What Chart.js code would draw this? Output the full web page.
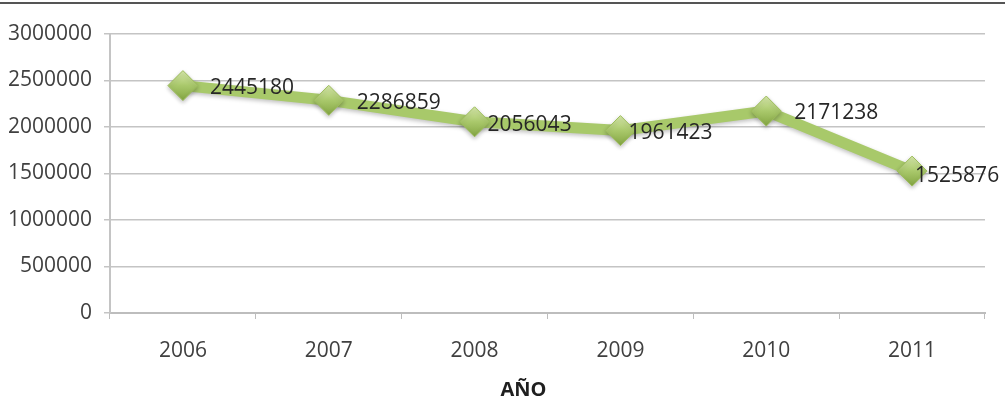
<!DOCTYPE html>
<html>
<head>
<meta charset="utf-8">
<script src="https://cdn.jsdelivr.net/npm/chart.js@4/dist/chart.umd.min.js"></script>
<style>
  html, body { margin: 0; padding: 0; background: #ffffff; }
  #wrap { position: relative; width: 1005px; height: 419px; }
  #wrap::before { content: ""; position: absolute; left: 0; right: 0; top: 2px; height: 2px; background: #555; }
  canvas { display: block; }
</style>
</head>
<body>
<div id="wrap"><canvas id="c" width="1005" height="419"></canvas></div>
<script>
// Yearly totals
const years = ['2006', '2007', '2008', '2009', '2010', '2011'];
const totals = [2445180, 2286859, 2056043, 1961423, 2171238, 1525876];
const yTicks = [0, 500000, 1000000, 1500000, 2000000, 2500000, 3000000];
const axisTitle = 'AÑO';

// label placement relative to each marker (px)
const labelShift = [[27, 2], [28, 3], [13, 3], [8, 2], [28, 2], [3, 5]];

const FONT = '"Open Sans", "DejaVu Sans", sans-serif';

const valueLabels = {
  id: 'valueLabels',
  afterDatasetsDraw(chart) {
    const ctx = chart.ctx;
    const meta = chart.getDatasetMeta(0);
    ctx.save();
    ctx.font = '21px ' + FONT;
    ctx.fillStyle = '#262626';
    ctx.textAlign = 'left';
    ctx.textBaseline = 'middle';
    meta.data.forEach((pt, i) => {
      const s = labelShift[i] || [14, 2];
      ctx.fillText(String(totals[i]), pt.x + s[0], pt.y + s[1]);
    });
    ctx.restore();
  }
};

// category axis title, sitting a little left of the plot centre
const xTitle = {
  id: 'xTitle',
  afterDraw(chart) {
    const ctx = chart.ctx;
    const area = chart.chartArea;
    ctx.save();
    ctx.font = 'bold 20px ' + FONT;
    ctx.fillStyle = '#1f1f1f';
    ctx.textAlign = 'center';
    ctx.textBaseline = 'middle';
    ctx.fillText(axisTitle, (area.left + area.right) / 2 - 24, area.bottom + 77);
    ctx.restore();
  }
};

const markerShadow = {
  id: 'markerShadow',
  beforeDatasetDraw(chart) {
    const ctx = chart.ctx;
    ctx.save();
    ctx.shadowColor = 'rgba(0,0,0,0.25)';
    ctx.shadowBlur = 4;
    ctx.shadowOffsetY = 2;
  },
  afterDatasetDraw(chart) {
    chart.ctx.restore();
  }
};

function diamondFill(context) {
  const el = context.element;
  if (!el || el.x === undefined) return '#a9c86b';
  const g = context.chart.ctx.createLinearGradient(el.x, el.y - 14, el.x, el.y + 14);
  g.addColorStop(0, '#d6e8a8');
  g.addColorStop(0.5, '#a9c86b');
  g.addColorStop(1, '#86a845');
  return g;
}

new Chart(document.getElementById('c'), {
  type: 'line',
  data: {
    labels: years,
    datasets: [{
      data: totals,
      borderColor: '#a8c96a',
      borderWidth: 11,
      borderJoinStyle: 'round',
      tension: 0,
      pointStyle: 'rectRot',
      pointRadius: 15,
      pointHoverRadius: 15,
      pointBackgroundColor: diamondFill,
      pointBorderColor: '#9dbd5c',
      pointBorderWidth: 1
    }]
  },
  options: {
    responsive: false,
    animation: false,
    events: [],
    layout: { padding: { left: 0, right: 20, top: 34, bottom: 0 } },
    plugins: { legend: { display: false }, tooltip: { enabled: false } },
    scales: {
      x: {
        offset: true,
        grid: {
          offset: true,
          drawOnChartArea: false,
          drawTicks: true,
          tickLength: 6,
          color: '#bdbdbd'
        },
        border: { color: '#bdbdbd', width: 2 },
        ticks: {
          color: '#404040',
          font: { family: FONT, size: 21 },
          padding: 19
        },
        afterFit(scale) { scale.height = 106; }
      },
      y: {
        min: 0,
        max: 3000000,
        afterBuildTicks(scale) { scale.ticks = yTicks.map(v => ({ value: v })); },
        grid: {
          color: '#c4c4c4',
          lineWidth: 1.5,
          tickLength: 6
        },
        border: { color: '#c4c4c4', width: 2 },
        ticks: {
          color: '#404040',
          font: { family: FONT, size: 21 },
          padding: 12,
          callback: v => String(v)
        },
        afterFit(scale) { scale.width = 110; }
      }
    }
  },
  plugins: [markerShadow, valueLabels, xTitle]
});
</script>
</body>
</html>
